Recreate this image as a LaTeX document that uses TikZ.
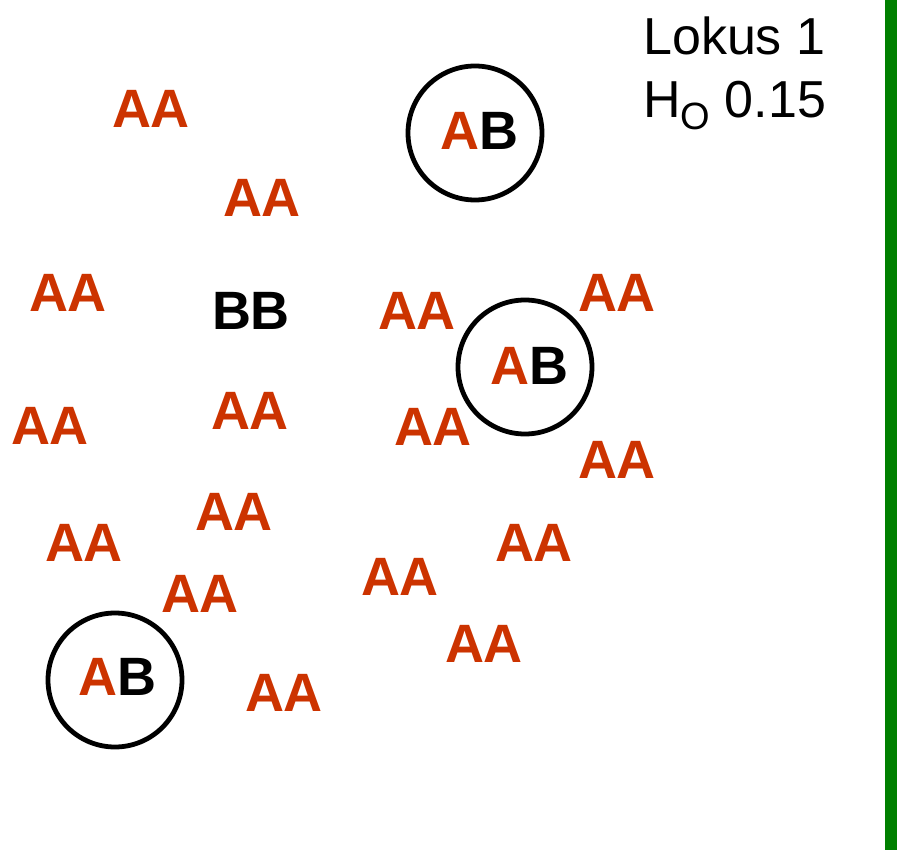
\documentclass[tikz,border=0pt]{standalone}
\usepackage{fontspec}
\setmainfont{Liberation Sans}
\definecolor{allelered}{HTML}{CC3300}
\definecolor{bargreen}{HTML}{008000}
\begin{document}
\begin{tikzpicture}[x=1pt,y=-1pt,
  geno/.style={inner sep=0pt,anchor=center,font=\fontsize{54}{60}\selectfont\bfseries},
  aa/.style={geno,text=allelered},
  ring/.style={draw=black,line width=4.8pt,circle,minimum size=134pt,inner sep=0pt},
  info/.style={inner sep=0pt,anchor=base west,font=\fontsize{52}{60}\selectfont}]
\useasboundingbox (0,0) rectangle (897,850);
\fill[bargreen] (885,0) rectangle (897,850);
\node[aa] (a1) at (151,109) {AA};
\node[aa] (a2) at (262,198) {AA};
\node[aa] (a3) at (68,293) {AA};
\node[geno] (bb) at (251,311) {BB};
\node[aa] (a5) at (417,311) {AA};
\node[aa] (a6) at (617,293) {AA};
\node[aa] (a7) at (250,411) {AA};
\node[aa] (a8) at (50,426) {AA};
\node[aa] (a9) at (433,427) {AA};
\node[aa] (a10) at (617,460) {AA};
\node[aa] (a11) at (234,512) {AA};
\node[aa] (a12) at (84,543) {AA};
\node[aa] (a13) at (534,543) {AA};
\node[aa] (a14) at (400,577) {AA};
\node[aa] (a15) at (200,594) {AA};
\node[aa] (a16) at (484,644) {AA};
\node[aa] (a17) at (284,693) {AA};
\node[ring] (c1) at (475,133) {};
\node[geno] (ab1) at (479,131) {\textcolor{allelered}{A}B};
\node[ring] (c2) at (525,367) {};
\node[geno] (ab2) at (529,366) {\textcolor{allelered}{A}B};
\node[ring] (c3) at (115,680) {};
\node[geno] (ab3) at (117,677) {\textcolor{allelered}{A}B};
\node[info] (lok) at (643,55) {Lokus 1};
\node[info] (ho) at (643,118) {H\raisebox{-12pt}{\fontsize{38}{40}\selectfont O} 0.15};
\end{tikzpicture}
\end{document}
